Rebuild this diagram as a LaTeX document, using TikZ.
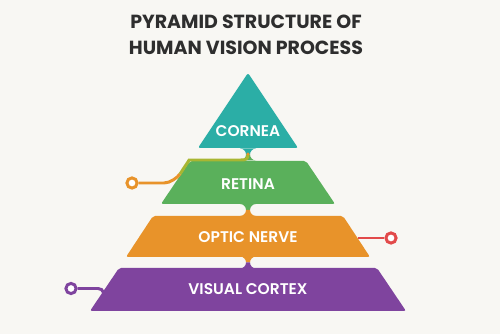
\documentclass[tikz,border=0pt]{standalone}
\usepackage{fontspec}
\setmainfont{Poppins}
\newfontfamily\titlefont{Poppins Bold}
\newfontfamily\capafont{Poppins SemiBold}

\definecolor{cornea}{HTML}{2BAEA6}
\definecolor{retina}{HTML}{5AB05B}
\definecolor{nervio}{HTML}{E8932A}
\definecolor{corteza}{HTML}{7F449E}
\definecolor{rojo}{HTML}{E24A4A}
\definecolor{oliva}{HTML}{A9B632}
\definecolor{fondo}{HTML}{F8F7F3}
\definecolor{titulo}{HTML}{2E2E2E}

\begin{document}
\begin{tikzpicture}[x=0.02cm, y=0.02cm,
    capa/.style={rounded corners=1.2pt},
    etiqueta/.style={font=\capafont\fontsize{8.8}{10}\selectfont, text=white},
    punto/.style={circle, draw=#1, fill=white, line width=1.7pt, inner sep=0pt, minimum size=5.8pt},
    conector/.style={line width=1.7pt}]

    \fill[fondo] (0,0) rectangle (500,334);
    \useasboundingbox (0,0) rectangle (500,334);

    % Titulo
    \node[font=\titlefont\fontsize{10.8}{14.7}\selectfont, text=titulo, align=center] (titulo) at (246,299)
        {PYRAMID STRUCTURE OF\\HUMAN VISION PROCESS};

    % Capas de la piramide
    \fill[cornea, capa]  (198,186) -- (248,261) -- (298,186) -- cycle;
    \fill[retina, capa]  (161,130) -- (190,173) -- (306,173) -- (335,130) -- cycle;
    \fill[nervio, capa]  (126,77)  -- (153,118) -- (343,118) -- (370,77)  -- cycle;
    \fill[corteza, capa] (90,23)   -- (119,66)  -- (377,66)  -- (406,23)  -- cycle;

    % Uniones entre capas
    \foreach \ym/\ca/\cb in {179.5/cornea/retina, 124/retina/nervio, 71.5/nervio/corteza} {
        \fill[\ca] (240,\ym+6) -- (256,\ym+6) arc (90:180:6) -- (246,\ym) arc (0:90:6) -- cycle;
        \fill[\cb] (240,\ym-6) -- (256,\ym-6) arc (-90:-180:6) -- (246,\ym) arc (0:-90:6) -- cycle;
    }

    % Etiquetas
    \node[etiqueta] (lCornea)  at (248,203) {CORNEA};
    \node[etiqueta] (lRetina)  at (248,150) {RETINA};
    \node[etiqueta] (lNervio)  at (248,97)  {OPTIC NERVE};
    \node[etiqueta] (lCorteza) at (248,45)  {VISUAL CORTEX};

    % Conectores
    \coordinate (eRetina)  at (180,160);
    \coordinate (uRetina)  at (248,180);
    \coordinate (eNervio)  at (357.5,96);
    \coordinate (eCorteza) at (103.5,41.5);

    \node[punto=nervio]  (pRetina)  at (132,151) {};
    \node[punto=rojo]    (pNervio)  at (391,96)  {};
    \node[punto=corteza] (pCorteza) at (71,45.5) {};

    \draw[conector, nervio] (pRetina) -- (164,151) .. controls (170,151) and (177,156) .. (eRetina);
    \draw[conector, oliva] (eRetina) -- (189.2,174) -- (241,174) .. controls (246,174) and (248,175) .. (uRetina);
    \fill[nervio] (uRetina) circle (1.7);
    \draw[conector, rojo] (eNervio) -- (pNervio);
    \draw[conector, corteza] (pCorteza) -- (98,45.5) .. controls (101,45.5) and (102.5,44) .. (eCorteza);
\end{tikzpicture}
\end{document}
